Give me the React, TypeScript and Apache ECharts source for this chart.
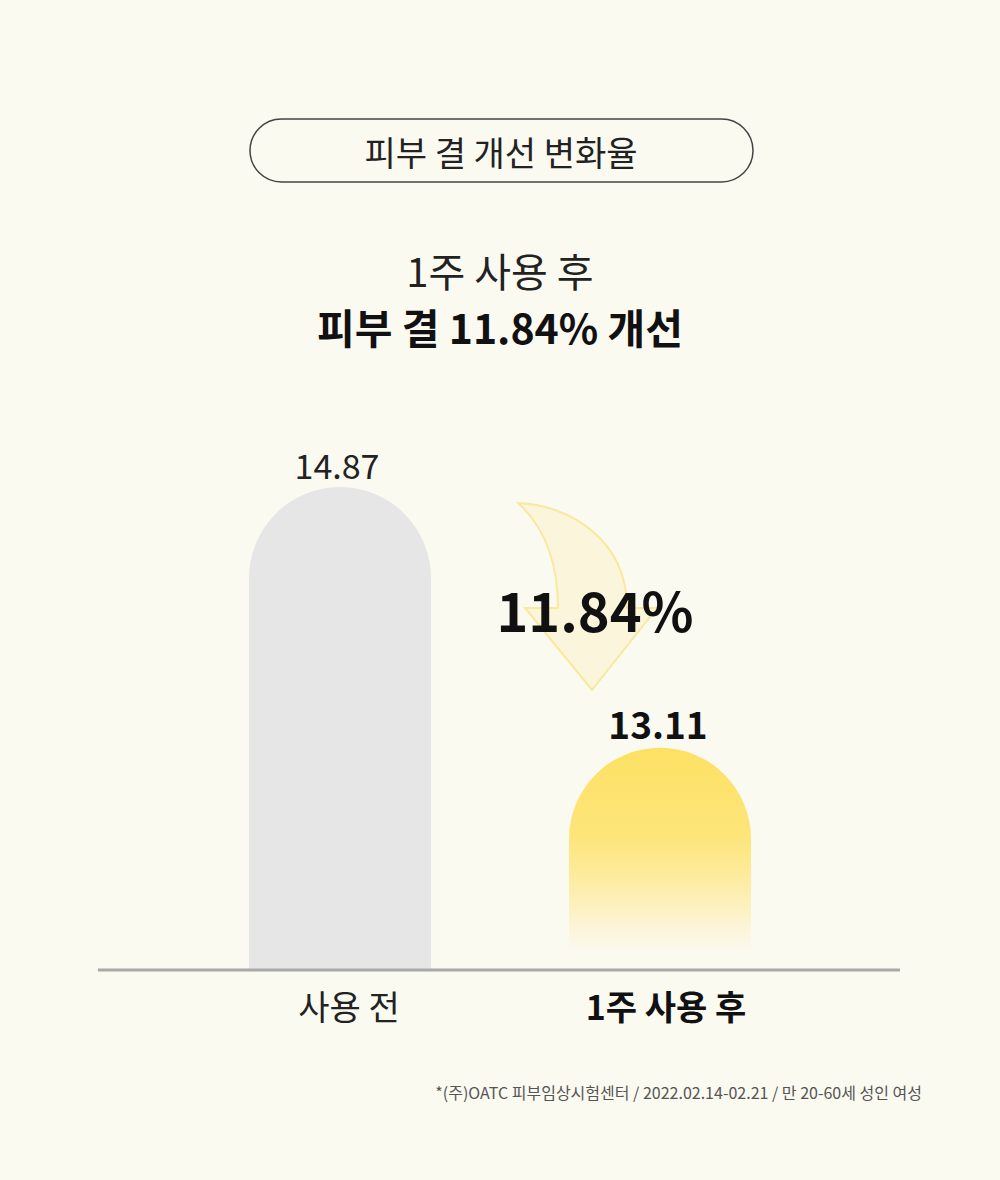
import React, { useEffect, useRef } from "react";
import * as echarts from "echarts";

const categories: string[] = ["사용 전", "1주 사용 후"];
const values: number[] = [14.87, 13.11];
const changeLabel = "11.84%";
const titleText = "피부 결 개선 변화율";
const headline1 = "1주 사용 후";
const headline2 = "피부 결 11.84% 개선";
const footnote = "*(주)OATC 피부임상시험센터 / 2022.02.14-02.21 / 만 20-60세 성인 여성";
const yMin = 11.61;
const yMax = 15.12;

const FONT = "'Noto Sans CJK KR', 'Noto Sans', sans-serif";
const BG = "#fbfaf1";

const arrowPath =
  "M 518 503 C 570 505 627 540 627 608 L 657 608 L 592 690 L 525 608 L 558 608 C 558 570 548 530 518 503 Z";

export default function App() {
  const ref = useRef<HTMLDivElement>(null);
  useEffect(() => {
    document.body.style.margin = "0";
    try {
      echarts.graphic.registerShape("curvedArrow", echarts.graphic.extendPath(arrowPath, {}) as any);
    } catch (e) {}
    const chart = echarts.init(ref.current!, undefined, { renderer: "svg" });
    const yellowGrad = new echarts.graphic.LinearGradient(0, 0, 0, 1, [
      { offset: 0, color: "#fde164" },
      { offset: 0.4, color: "#fde57a" },
      { offset: 0.6, color: "#fdeca3" },
      { offset: 0.8, color: "#fcf4d6" },
      { offset: 0.92, color: BG },
      { offset: 1, color: BG },
    ]);
    chart.setOption({
      animation: false,
      backgroundColor: BG,
      grid: { left: 180, right: 180, top: 450, bottom: 210 },
      xAxis: {
        type: "category",
        data: categories,
        axisLine: { show: false },
        axisTick: { show: false },
        axisLabel: {
          margin: 18,
          formatter: (v: string, i: number) => (i === 1 ? `{b|${v}}` : `{n|${v}}`),
          rich: {
            n: { fontFamily: FONT, fontSize: 34, color: "#222", fontWeight: "normal", padding: [0, 0, 0, 18] },
            b: { fontFamily: FONT, fontSize: 34, color: "#111", fontWeight: "bold", padding: [0, 0, 0, 12] },
          },
        },
      },
      yAxis: {
        type: "value",
        min: yMin,
        max: yMax,
        show: false,
        splitLine: { show: false },
      },
      series: [
        {
          type: "bar",
          barWidth: 182,
          z: 2,
          data: values.map((v, i) => ({
            value: v,
            itemStyle: {
              color: i === 0 ? "#e6e6e6" : yellowGrad,
              borderRadius: [91, 91, 0, 0],
            },
            label: {
              show: true,
              position: "top",
              distance: 6,
              fontFamily: FONT,
              fontSize: i === 0 ? 34 : 37,
              fontWeight: i === 0 ? "normal" : "bold",
              color: i === 0 ? "#222" : "#111",
              offset: [i === 0 ? -3 : -2, 0],
              formatter: (p: any) => p.value.toFixed(2),
            },
          })),
        },
      ],
      graphic: [
        {
          type: "rect",
          shape: { x: 250, y: 119, width: 503, height: 63, r: 31.5 },
          style: { fill: "transparent", stroke: "#444", lineWidth: 1.5 },
        },
        {
          type: "text",
          x: 501,
          y: 151,
          style: {
            text: titleText,
            fontFamily: FONT,
            fontSize: 34,
            fill: "#222",
            align: "center",
            verticalAlign: "middle",
          },
        },
        {
          type: "text",
          x: 500,
          y: 270,
          style: {
            text: headline1,
            fontFamily: FONT,
            fontSize: 40,
            fill: "#222",
            align: "center",
            verticalAlign: "middle",
          },
        },
        {
          type: "text",
          x: 500,
          y: 326,
          style: {
            text: headline2,
            fontFamily: FONT,
            fontSize: 41,
            fontWeight: "bold",
            fill: "#111",
            align: "center",
            verticalAlign: "middle",
          },
        },
        {
          type: "curvedArrow",
          x: 0,
          y: 0,
          z: 1,
          style: { fill: "rgba(252,240,200,0.55)", stroke: "#f9e99c", lineWidth: 2 },
        },
        {
          type: "text",
          x: 595,
          y: 608,
          z: 10,
          style: {
            text: changeLabel,
            fontFamily: FONT,
            fontSize: 54,
            fontWeight: "bold",
            fill: "#111",
            align: "center",
            verticalAlign: "middle",
          },
        },
        {
          type: "line",
          z: 5,
          shape: { x1: 98, y1: 970, x2: 900, y2: 970 },
          style: { stroke: "#a9a9a9", lineWidth: 3 },
        },
        {
          type: "text",
          x: 922,
          y: 1092,
          style: {
            text: footnote,
            fontFamily: FONT,
            fontSize: 16,
            fill: "#555",
            align: "right",
            verticalAlign: "middle",
          },
        },
      ],
    });
    return () => chart.dispose();
  }, []);
  return (
    <div
      ref={ref}
      style={{ position: "absolute", left: 0, top: 0, width: 1000, height: 1180 }}
    />
  );
}
